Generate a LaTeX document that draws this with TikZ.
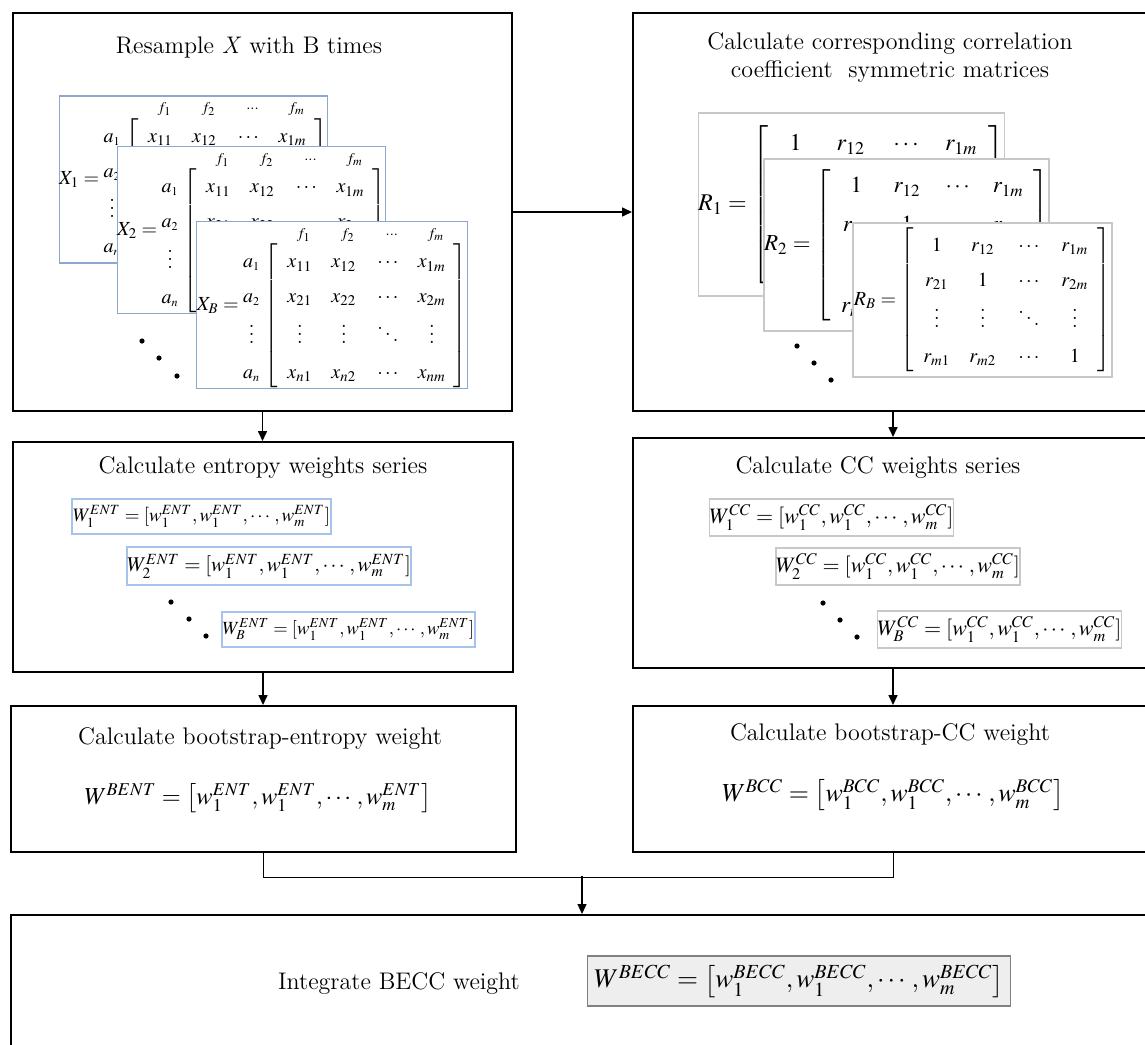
\documentclass[tikz,border=0pt]{standalone}
\usepackage{amsmath}
\usepackage{mathptmx}
\renewcommand{\rmdefault}{lmr}
\usepackage{array}
\usetikzlibrary{arrows.meta,positioning}

\definecolor{matblue}{RGB}{140,168,204}
\definecolor{wblue}{RGB}{165,195,235}
\definecolor{matgray}{RGB}{200,200,200}
\definecolor{fillgray}{RGB}{238,238,238}

\setlength{\arraycolsep}{0pt}

% matrix with feature / sample labels
\newcommand{\xmat}[1]{%
  X_{#1} = {\def\arraystretch{1}%
  \begin{array}{@{}r@{\;}c@{}}
    & \hspace{4pt}\begin{array}{*{4}{w{c}{2.2em}}}
      \scriptstyle f_1 & \scriptstyle f_2 & \scriptstyle \cdots & \scriptstyle f_m
    \end{array}\\[-1pt]
    \def\arraystretch{1.45}%
    \begin{array}{c} a_{\scriptscriptstyle 1}\\ a_{\scriptscriptstyle 2}\\ \vdots\\ a_{\scriptscriptstyle n} \end{array} &
    \def\arraystretch{1.45}%
    \left[\begin{array}{*{4}{w{c}{2.2em}}}
      x_{11} & x_{12} & \cdots & x_{1m}\\
      x_{21} & x_{22} & \cdots & x_{2m}\\
      \vdots & \vdots & \ddots & \vdots\\
      x_{n1} & x_{n2} & \cdots & x_{nm}
    \end{array}\right]
  \end{array}}}

% correlation matrix
\newcommand{\rmat}[2]{%
  R_{#1} = {\def\arraystretch{1.45}%
  \left[\begin{array}{*{4}{w{c}{#2}}}
    1 & r_{12} & \cdots & r_{1m}\\
    r_{21} & 1 & \cdots & r_{2m}\\
    \vdots & \vdots & \ddots & \vdots\\
    r_{m1} & r_{m2} & \cdots & 1
  \end{array}\right]}}

% weight series
\newcommand{\wser}[2]{$W_{#1}^{#2} = [w_1^{#2}, w_1^{#2}, \cdots, w_m^{#2}]$}
\newcommand{\wboot}[2]{$W^{#1} = \left[w_1^{#2}, w_1^{#2}, \cdots, w_m^{#2}\right]$}

\begin{document}
\begin{tikzpicture}[
    x=0.5pt, y=-0.5pt,
    bigbox/.style={draw, line width=1pt, inner sep=0pt},
    xbox/.style={draw=matblue, fill=white, line width=0.6pt, inner sep=0pt,
      font=\fontsize{10}{12}\selectfont},
    rbox/.style={draw=matgray, fill=white, line width=0.6pt, inner sep=0pt},
    wbox/.style={draw=wblue, fill=white, line width=0.6pt, inner sep=0pt},
    cbox/.style={draw=matgray, fill=white, line width=0.6pt, inner sep=0pt},
    title/.style={font=\large, align=center},
    arr/.style={-{Triangle[length=5pt,width=4.5pt]}, line width=0.8pt},
    link/.style={line width=0.5pt}
    ]
  \useasboundingbox (0,0) rectangle (1145,1044);
  \clip (0,0) rectangle (1145,1044);

  % main boxes
  \node[bigbox, minimum width=249.5pt, minimum height=199pt] (resample) at (262.5,212) {};
  \node[bigbox, minimum width=260pt, minimum height=199pt] (corr) at (893,212) {};
  \node[bigbox, minimum width=250pt, minimum height=115pt] (entser) at (263,557) {};
  \node[bigbox, minimum width=260pt, minimum height=115pt] (ccser) at (893,553) {};
  \node[bigbox, minimum width=252.5pt, minimum height=73pt] (bent) at (263.5,779) {};
  \node[bigbox, minimum width=260pt, minimum height=73pt] (bcc) at (893,779) {};
  \node[bigbox, minimum width=572pt, minimum height=68.5pt] (becc) at (583,983.5) {};

  % titles
  \node[title] (resampleT) at (249,47) {Resample \textit{X} with B times};
  \node[title] (corrT) at (890,57) {Calculate corresponding correlation\\coefficient\ \ symmetric matrices};
  \node[title] (entserT) at (263,468) {Calculate entropy weights series};
  \node[title] (ccserT) at (878,468) {Calculate CC weights series};
  \node[title] (bentT) at (260,739) {Calculate bootstrap-entropy weight};
  \node[title] (bccT) at (890,735) {Calculate bootstrap-CC weight};
  \node[title] (beccT) at (399,983) {Integrate BECC weight};

  % resampled matrices
  \node[xbox, minimum width=130.5pt, minimum height=79.5pt] (xone) at (193.5,179.5) {$\xmat{1}$};
  \node[xbox, minimum width=132.5pt, minimum height=79pt] (xtwo) at (251.5,230) {$\xmat{2}$};
  \node[xbox, minimum width=134pt, minimum height=79pt] (xB) at (332,305) {$\xmat{B}$};
  \foreach \px/\py in {142/341, 159/358, 177/376}
    \fill (\px,\py) circle (1.3pt);

  % correlation matrices
  \node[rbox, minimum width=150.5pt, minimum height=91.5pt, font=\fontsize{12}{14}\selectfont] (rone) at (851.5,204.5) {$\rmat{1}{2.3em}$};
  \node[rbox, minimum width=142.5pt, minimum height=86pt, font=\fontsize{11.5}{13.5}\selectfont] (rtwo) at (906.5,245) {$\rmat{2}{2.2em}$};
  \node[rbox, minimum width=129.5pt, minimum height=77pt, font=\fontsize{10}{12}\selectfont] (rB) at (982.5,300) {$\rmat{B}{2.3em}$};
  \foreach \px/\py in {797/346, 814/363, 831/380}
    \fill (\px,\py) circle (1.3pt);

  % entropy weight series
  \node[wbox, minimum width=129.5pt, minimum height=17.5pt, font=\fontsize{9.5}{11}\selectfont] (went1) at (201.5,516.5) {\wser{1}{ENT}};
  \node[wbox, minimum width=142pt, minimum height=19pt, font=\fontsize{10.5}{12.5}\selectfont] (went2) at (269,566) {\wser{2}{ENT}};
  \node[wbox, minimum width=126.5pt, minimum height=17.5pt, font=\fontsize{9.3}{11}\selectfont] (wentB) at (348.5,629.5) {\wser{B}{ENT}};
  \foreach \px/\py in {171/602, 189/619, 206/636}
    \fill (\px,\py) circle (1.3pt);

  % CC weight series
  \node[cbox, minimum width=121.5pt, minimum height=18.5pt, font=\fontsize{11}{13}\selectfont] (wcc1) at (831.5,517.5) {\wser{1}{CC}};
  \node[cbox, minimum width=122pt, minimum height=18.5pt, font=\fontsize{11}{13}\selectfont] (wcc2) at (898,566.5) {\wser{2}{CC}};
  \node[cbox, minimum width=121.5pt, minimum height=18.5pt, font=\fontsize{11}{13}\selectfont] (wccB) at (999.5,629.5) {\wser{B}{CC}};
  \foreach \px/\py in {823/603, 840/620, 857/637}
    \fill (\px,\py) circle (1.3pt);

  % bootstrap weights
  \node[font=\fontsize{12.2}{14}\selectfont] (bentF) at (258,798) {\wboot{BENT}{ENT}};
  \node[font=\fontsize{13}{15}\selectfont] (bccF) at (893,795) {\wboot{BCC}{BCC}};
  \node[draw=gray, fill=fillgray, line width=0.6pt, minimum width=211pt, minimum height=25pt, font=\fontsize{13.5}{16}\selectfont] (beccF) at (799,981) {\wboot{BECC}{BECC}};

  % connectors
  \draw[arr] (resample) -- (corr);
  \draw[arr] (resample.south) -- (resample.south |- entser.north);
  \draw[arr] (corr.south) -- (ccser.north);
  \draw[arr] (entser.south) -- (entser.south |- bent.north);
  \draw[arr] (ccser.south) -- (bcc.north);
  \draw[link] (bent.south) -- ++(0,24) -| (bcc.south);
  \coordinate (join) at (582,876);
  \draw[arr, line width=0.6pt] (join) -- (join |- becc.north);
\end{tikzpicture}
\end{document}
